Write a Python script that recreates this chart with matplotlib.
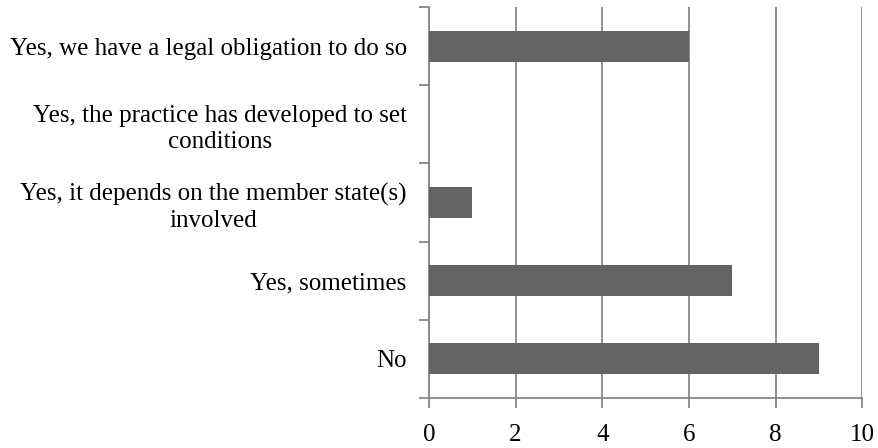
import matplotlib.pyplot as plt
import numpy as np

plt.rcParams['font.family'] = ['Liberation Serif', 'DejaVu Serif']

categories = ['No',
              'Yes, sometimes',
              'Yes, it depends on the member state(s)\ninvolved',
              'Yes, the practice has developed to set\nconditions',
              'Yes, we have a legal obligation to do so']
values = [9, 7, 1, 0, 6]
xticks = [0, 2, 4, 6, 8, 10]

grey = '#878787'

fig = plt.figure(figsize=(8.79, 4.48), dpi=100)
ax = fig.add_axes([0.488, 0.112, 0.493, 0.872])

y = np.arange(len(categories))
ax.barh(y, values, height=0.4, color='#636363', zorder=3)

ax.set_xlim(0, 10)
ax.set_ylim(-0.5, len(categories) - 0.5)
ax.set_xticks(xticks)
ax.set_xticklabels([str(t) for t in xticks], fontsize=18)
ax.set_yticks(y)
ax.set_yticklabels(categories, fontsize=18, multialignment='center', linespacing=1.25)
ax.set_yticks(np.arange(len(categories) + 1) - 0.5, minor=True)

ax.tick_params(axis='y', which='major', length=0, pad=16)
ax.tick_params(axis='y', which='minor', length=7, color=grey, width=1.3)
ax.tick_params(axis='x', length=7, color=grey, width=1.3, pad=12)

ax.grid(axis='x', color=grey, linewidth=1.3, zorder=0)
for side in ['top', 'right', 'bottom']:
    ax.spines[side].set_visible(False)
ax.spines['left'].set_color(grey)
ax.spines['left'].set_linewidth(1.3)
ax.axhline(-0.5, color=grey, linewidth=1.3, zorder=2, clip_on=False)

fig.savefig('out.png', dpi=100)
